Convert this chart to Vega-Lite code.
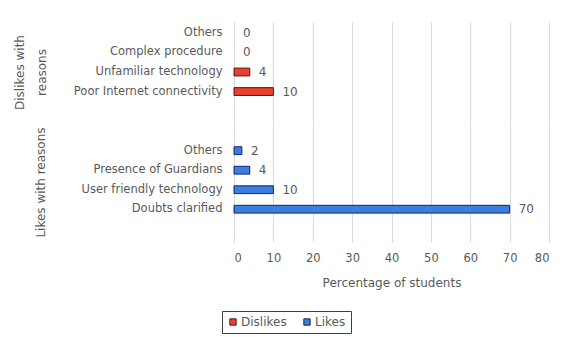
{
  "$schema": "https://vega.github.io/schema/vega-lite/v6.json",
  "padding": {"left": 13, "top": 22, "right": 10, "bottom": 5},
  "background": "white",
  "data": {
    "values": [
      {"group": "Dislikes", "reason": "Others", "value": 0},
      {"group": "Dislikes", "reason": "Complex procedure", "value": 0},
      {"group": "Dislikes", "reason": "Unfamiliar technology", "value": 4},
      {"group": "Dislikes", "reason": "Poor Internet connectivity", "value": 10},
      {"group": "Likes", "reason": "Others", "value": 2},
      {"group": "Likes", "reason": "Presence of Guardians", "value": 4},
      {"group": "Likes", "reason": "User friendly technology", "value": 10},
      {"group": "Likes", "reason": "Doubts clarified", "value": 70}
    ]
  },
  "spacing": 0,
  "resolve": {"scale": {"color": "shared", "stroke": "shared"}, "legend": {"color": "shared"}},
  "vconcat": [
    {
      "width": 315,
      "height": 100,
      "transform": [{"filter": "datum.group === 'Dislikes'"}],
      "encoding": {
        "y": {
          "field": "reason",
          "type": "nominal",
          "scale": {"domain": ["Others", "Complex procedure", "Unfamiliar technology", "Poor Internet connectivity", " "], "paddingInner": 0.6, "paddingOuter": 0.36},
          "axis": {"title": ["Dislikes with", "reasons"], "titleX": -208, "titleY": 50, "titleLineHeight": 22}
        },
        "x": {
          "field": "value",
          "type": "quantitative",
          "scale": {"domain": [0, 80]},
          "axis": {"labels": false, "ticks": false, "domain": false, "title": null, "grid": true, "values": [0, 10, 20, 30, 40, 50, 60, 70, 80]}
        }
      },
      "layer": [
        {
          "mark": {"type": "bar", "strokeWidth": 1},
          "encoding": {
            "color": {"field": "group", "type": "nominal", "scale": {"domain": ["Dislikes", "Likes"], "range": ["#E8412F", "#3C7DE0"]}, "legend": {"title": null}},
            "stroke": {"field": "group", "type": "nominal", "scale": {"domain": ["Dislikes", "Likes"], "range": ["#5C1510", "#14285A"]}, "legend": null},
            "strokeOpacity": {"condition": {"test": "datum.value === 0", "value": 0}, "value": 1}
          }
        },
        {
          "mark": {"type": "text", "align": "left", "baseline": "middle", "dx": 9, "fontSize": 12, "color": "#595959", "font": "DejaVu Sans"},
          "encoding": {"text": {"field": "value", "type": "quantitative"}}
        }
      ]
    },
    {
      "width": 315,
      "height": 120,
      "transform": [{"filter": "datum.group === 'Likes'"}],
      "encoding": {
        "y": {
          "field": "reason",
          "type": "nominal",
          "scale": {"domain": [" ", "Others", "Presence of Guardians", "User friendly technology", "Doubts clarified", "  "], "paddingInner": 0.6, "paddingOuter": 0.375, "align": 0.36},
          "axis": {"title": "Likes with reasons", "titleX": -187, "titleY": 60}
        },
        "x": {
          "field": "value",
          "type": "quantitative",
          "scale": {"domain": [0, 80]},
          "axis": {"title": "Percentage of students", "grid": true, "values": [0, 10, 20, 30, 40, 50, 60, 70, 80], "domain": false, "ticks": false, "labelPadding": 10, "titlePadding": 14}
        }
      },
      "layer": [
        {
          "mark": {"type": "bar", "strokeWidth": 1},
          "encoding": {
            "color": {"field": "group", "type": "nominal", "scale": {"domain": ["Dislikes", "Likes"], "range": ["#E8412F", "#3C7DE0"]}, "legend": {"title": null}},
            "stroke": {"field": "group", "type": "nominal", "scale": {"domain": ["Dislikes", "Likes"], "range": ["#5C1510", "#14285A"]}, "legend": null},
            "strokeOpacity": {"condition": {"test": "datum.value === 0", "value": 0}, "value": 1}
          }
        },
        {
          "mark": {"type": "text", "align": "left", "baseline": "middle", "dx": 9, "fontSize": 12, "color": "#595959", "font": "DejaVu Sans"},
          "encoding": {"text": {"field": "value", "type": "quantitative"}}
        }
      ]
    }
  ],
  "config": {
    "font": "DejaVu Sans",
    "view": {"stroke": null},
    "axis": {
      "labelFont": "DejaVu Sans",
      "titleFont": "DejaVu Sans",
      "labelColor": "#595959",
      "titleColor": "#595959",
      "labelFontSize": 11.5,
      "titleFontSize": 12,
      "titleFontWeight": "normal",
      "gridColor": "#D9D9D9",
      "domainColor": "#D9D9D9"
    },
    "axisY": {"ticks": false, "labelPadding": 12, "domain": true, "grid": false},
    "legend": {
      "orient": "none",
      "legendX": -12,
      "legendY": 289,
      "direction": "horizontal",
      "strokeColor": "#404040",
      "padding": 5,
      "symbolType": "square",
      "symbolSize": 40,
      "symbolStrokeColor": "#333333",
      "symbolStrokeWidth": 1,
      "labelFontSize": 12,
      "labelColor": "#595959",
      "labelFont": "DejaVu Sans",
      "columnPadding": 14,
      "labelOffset": 2
    }
  }
}
